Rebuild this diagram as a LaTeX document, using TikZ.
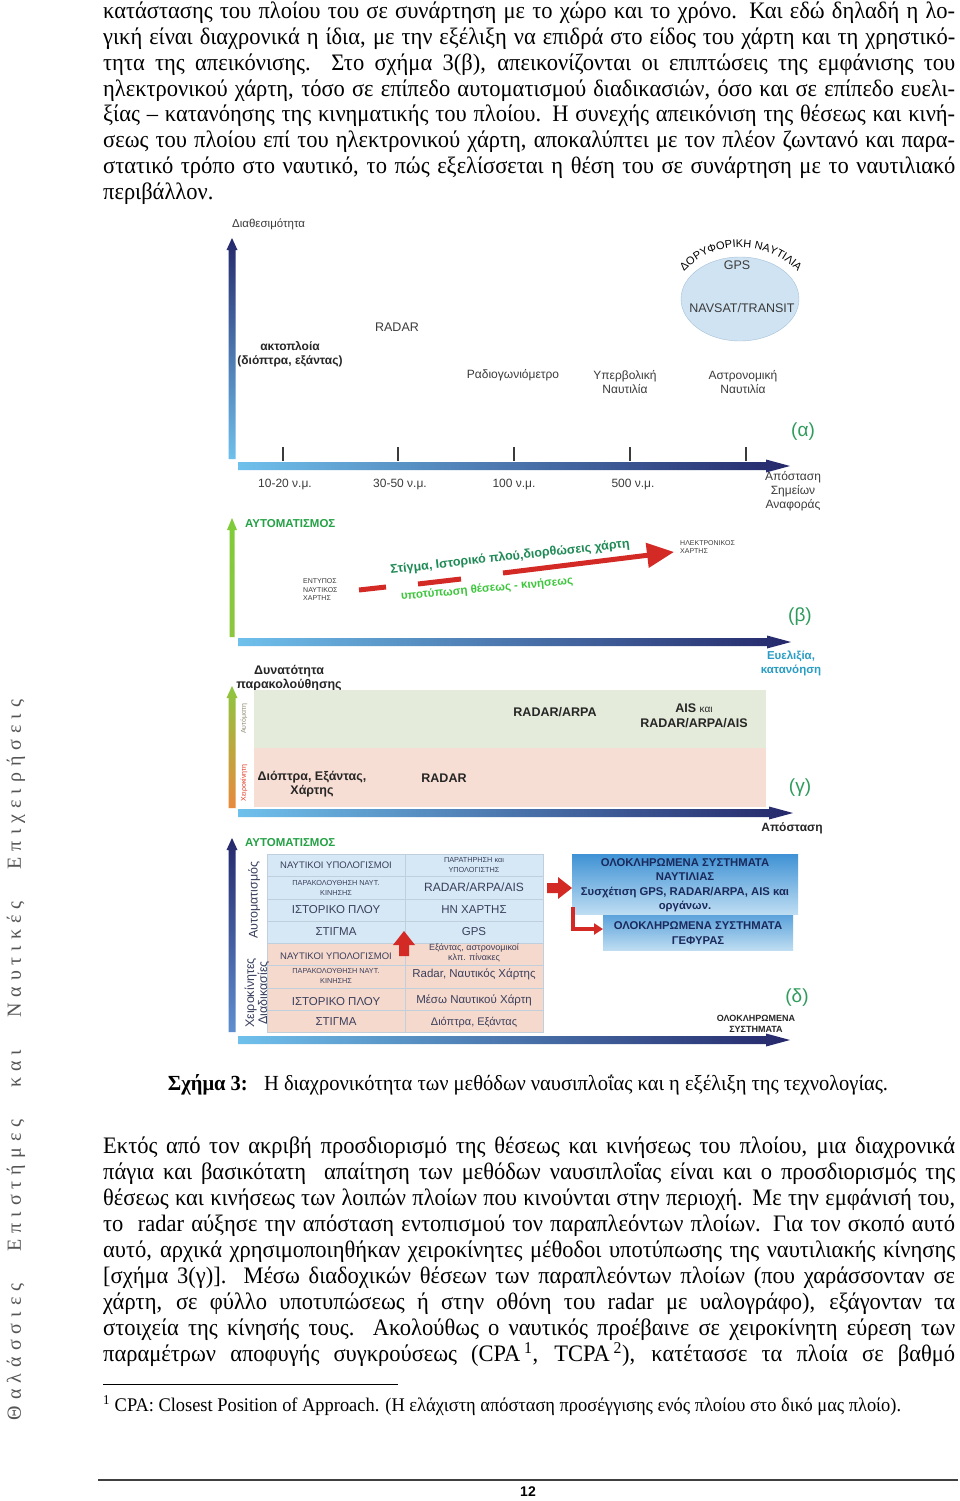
\documentclass[tikz,border=0pt]{standalone}
\usepackage{fontspec}
\usepackage{graphicx}
\setmainfont{Liberation Serif}
\setsansfont{Liberation Sans}
\usetikzlibrary{arrows.meta,decorations.text,shapes.geometric}
\definecolor{nv}{HTML}{25286B}
\definecolor{lb}{HTML}{6FC0EC}
\definecolor{labg}{HTML}{2F9B5C}
\definecolor{agrn}{HTML}{25A246}
\definecolor{rd}{HTML}{D42A25}
\definecolor{txtc}{HTML}{3B3B3B}
\definecolor{evc}{HTML}{2B9DC4}
\definecolor{dgr}{HTML}{1E8A55}
\definecolor{bgr}{HTML}{3CC63C}
\definecolor{sage}{HTML}{E4EBDA}
\definecolor{pinkb}{HTML}{F7DED4}
\definecolor{tblue}{HTML}{D6E8F5}
\definecolor{tpink}{HTML}{F6D9CD}
\definecolor{gridc}{HTML}{BFCFDB}
\definecolor{tblc}{HTML}{3A3F5C}
\definecolor{bxa}{HTML}{3F92D5}
\definecolor{bxb}{HTML}{BEDDF2}
\definecolor{bxt}{HTML}{1B2A5C}
\definecolor{ellf}{HTML}{CFE3F3}
\definecolor{elld}{HTML}{A6C1D8}
\definecolor{sidec}{HTML}{555555}
\definecolor{grA}{HTML}{8DC63F}
\definecolor{orA}{HTML}{E98A3C}
\definecolor{vbl}{HTML}{5F8FD0}
\newcommand{\jline}[3]{\node[anchor=base west,inner sep=0pt,body] (#1) at (103,#2) {\scalebox{1}[1.05]{\makebox[852pt][s]{#3}}};}
\newcommand{\harr}[3]{\shade[left color=lb,right color=nv] (#1,#3-4) -- (#2-24,#3-4) -- (#2-24,#3-6.5) -- (#2,#3) -- (#2-24,#3+6.5) -- (#2-24,#3+4) -- (#1,#3+4) -- cycle;}
\newcommand{\varr}[5]{\shade[top color=#4,bottom color=#5] (#1-3.5,#3) -- (#1-3.5,#2+12) -- (#1-5.5,#2+12) -- (#1,#2) -- (#1+5.5,#2+12) -- (#1+3.5,#2+12) -- (#1+3.5,#3) -- cycle;}
\tikzset{
  body/.style={font=\fontsize{22.5}{26}\selectfont},
  lbl/.style 2 args={font=\sffamily\fontsize{#1}{#2}\selectfont,text=txtc,inner sep=0pt,align=center},
  blbl/.style 2 args={font=\sffamily\bfseries\fontsize{#1}{#2}\selectfont,text=black!85,inner sep=0pt,align=center},
  tc/.style 2 args={font=\sffamily\fontsize{#1}{#2}\selectfont,text=tblc,inner sep=0pt,align=center},
  panel/.style={font=\sffamily\fontsize{19}{19}\selectfont,text=labg,inner sep=0pt},
  bxtxt/.style={font=\sffamily\bfseries\fontsize{11.3}{14.5}\selectfont,text=bxt,inner sep=0pt,align=center}
}
\begin{document}
\begin{tikzpicture}[x=1pt,y=-1pt]
\useasboundingbox (0,0) rectangle (960,1501);
\fill[white] (0,0) rectangle (960,1501);
% ---------- top paragraph ----------
\jline{t1}{19}{κατάστασης του πλοίου του σε συνάρτηση με το χώρο και το χρόνο. Και εδώ δηλαδή η λο-}
\jline{t2}{44.7}{γική είναι διαχρονικά η ίδια, με την εξέλιξη να επιδρά στο είδος του χάρτη και τη χρηστικό-}
\jline{t3}{70.4}{τητα της απεικόνισης.\ \ Στο σχήμα 3(β), απεικονίζονται οι επιπτώσεις της εμφάνισης του}
\jline{t4}{96.1}{ηλεκτρονικού χάρτη, τόσο σε επίπεδο αυτοματισμού διαδικασιών, όσο και σε επίπεδο ευελι-}
\jline{t5}{121.8}{ξίας – κατανόησης της κινηματικής του πλοίου. Η συνεχής απεικόνιση της θέσεως και κινή-}
\jline{t6}{147.5}{σεως του πλοίου επί του ηλεκτρονικού χάρτη, αποκαλύπτει με τον πλέον ζωντανό και παρα-}
\jline{t7}{173.2}{στατικό τρόπο στο ναυτικό, το πώς εξελίσσεται η θέση του σε συνάρτηση με το ναυτιλιακό}
\node[anchor=base west,inner sep=0pt,body] (t8) at (103,199) {\scalebox{1}[1.05]{περιβάλλον.}};
% ---------- side text ----------
\node[rotate=90,inner sep=0pt,text=sidec] (side) at (16,1060) {\fontsize{20}{20}\selectfont\addfontfeature{LetterSpace=30}\makebox[720pt][s]{Θαλάσσιες Επιστήμες και Ναυτικές Επιχειρήσεις}};
% ---------- panel alpha ----------
\node[lbl={11.5}{13},anchor=west] (dia) at (232,224) {Διαθεσιμότητα};
\varr{232}{238}{459}{nv}{lb}
\harr{238}{790}{466}
\foreach \tx in {283,398,514,630,746} \draw[line width=1.3pt,txtc] (\tx,447) -- (\tx,461);
\node[lbl={12}{14}] (k1) at (285,484) {10-20 ν.μ.};
\node[lbl={12}{14}] (k2) at (400,484) {30-50 ν.μ.};
\node[lbl={12}{14}] (k3) at (514,484) {100 ν.μ.};
\node[lbl={12}{14}] (k4) at (633,484) {500 ν.μ.};
\node[lbl={12}{14}] (aps) at (793,491) {Απόσταση\\Σημείων\\Αναφοράς};
\node[panel] (pa) at (803,432) {(α)};
\node[blbl={12}{14.5}] (akt) at (290,354) {ακτοπλοία\\(διόπτρα, εξάντας)};
\node[lbl={12.5}{14}] (rad) at (397,327) {RADAR};
\node[lbl={12}{14}] (rdg) at (513,375) {Ραδιογωνιόμετρο};
\node[lbl={12}{14}] (yp) at (625,382) {Υπερβολική\\Ναυτιλία};
\node[lbl={12}{14}] (ast) at (743,382) {Αστρονομική\\Ναυτιλία};
\node[ellipse,draw=elld,fill=ellf,minimum width=118pt,minimum height=84pt,inner sep=0pt] (ell) at (740,299) {};
\node[lbl={12.5}{14}] (gps) at (737,265) {GPS};
\node[lbl={12.5}{14}] (nav) at (742,308) {NAVSAT/TRANSIT};
\path[decorate,decoration={text along path,text align=center,text={|\sffamily\fontsize{11}{11}\selectfont|ΔΟΡΥΦΟΡΙΚΗ ΝΑΥΤΙΛΙΑ}}] (681,275) .. controls (711,238) and (769,238) .. (801,275);
% ---------- panel beta ----------
\shade[top color=grA!90!green,bottom color=grA] (229.5,637) -- (229.5,530) -- (227,530) -- (232,518) -- (237,530) -- (234.5,530) -- (234.5,637) -- cycle;
\node[font=\sffamily\bfseries\fontsize{11.5}{13}\selectfont,text=agrn,anchor=west,inner sep=0pt] (aut1) at (245,524) {ΑΥΤΟΜΑΤΙΣΜΟΣ};
\harr{238}{791}{642}
\node[lbl={7}{8.5},anchor=west,align=left] (ent) at (303,590) {ΕΝΤΥΠΟΣ\\ΝΑΥΤΙΚΟΣ\\ΧΑΡΤΗΣ};
\node[lbl={7}{8.5},anchor=west,align=left] (hlk) at (680,547) {ΗΛΕΚΤΡΟΝΙΚΟΣ\\ΧΑΡΤΗΣ};
\coordinate (d1a) at (359,590); \coordinate (d1b) at (386,587);
\coordinate (d2a) at (418,584); \coordinate (d2b) at (461,579);
\coordinate (d3a) at (503,573); \coordinate (d3b) at (674,552);
\draw[rd,line width=5pt] (d1a) -- (d1b);
\draw[rd,line width=5pt] (d2a) -- (d2b);
\draw[rd,line width=5pt,-{Triangle[length=27pt,width=24pt]}] (d3a) -- (d3b);
\node[font=\sffamily\bfseries\fontsize{12.5}{14}\selectfont,text=dgr,rotate=6.3,inner sep=0pt] (stg) at (510,557) {Στίγμα, Ιστορικό πλού,διορθώσεις χάρτη};
\node[font=\sffamily\bfseries\fontsize{11.5}{14}\selectfont,text=bgr,rotate=5.2,inner sep=0pt] (ypt) at (487,589) {υποτύπωση θέσεως - κινήσεως};
\node[panel] (pb) at (800,617) {(β)};
\node[font=\sffamily\bfseries\fontsize{11.5}{14}\selectfont,text=evc,align=center,inner sep=0pt] (evl) at (791,663) {Ευελιξία,\\κατανόηση};
% ---------- panel gamma ----------
\node[blbl={12.5}{14}] (dyn) at (289,678) {Δυνατότητα\\παρακολούθησης};
\fill[sage] (254,690) rectangle (766,748);
\fill[pinkb] (254,748) rectangle (766,807);
\varr{232}{686}{808}{grA}{orA}
\node[font=\sffamily\fontsize{7}{7}\selectfont,text=gray!80!olive,rotate=90,inner sep=0pt] (auto) at (244,719) {Αυτόματη};
\node[font=\sffamily\fontsize{7}{7}\selectfont,text=red!55!brown,rotate=90,inner sep=0pt] (xeir) at (244,783) {Χειροκίνητη};
\harr{238}{793}{813}
\node[blbl={12.5}{14}] (rarpa) at (555,712) {RADAR/ARPA};
\node[blbl={12.5}{14.5}] (ais) at (694,716) {AIS {\mdseries\fontsize{10}{12}\selectfont και}\\RADAR/ARPA/AIS};
\node[blbl={12.5}{14.5}] (diop) at (312,784) {Διόπτρα, Εξάντας,\\Χάρτης};
\node[blbl={12.5}{14}] (rad2) at (444,778) {RADAR};
\node[panel] (pg3) at (800,788) {(γ)};
\node[blbl={12}{14}] (apo) at (792,828) {Απόσταση};
% ---------- panel delta ----------
\varr{232}{838}{1032}{nv}{vbl}
\node[font=\sffamily\bfseries\fontsize{11.5}{13}\selectfont,text=agrn,anchor=west,inner sep=0pt] (aut2) at (245,843) {ΑΥΤΟΜΑΤΙΣΜΟΣ};
\fill[tblue] (267,854) rectangle (543,943.5);
\fill[tpink] (267,943.5) rectangle (543,1032);
\draw[gridc,line width=0.8pt] (267,854) rectangle (543,1032);
\foreach \yy in {876.5,899,921.5,943.5,965.5,988,1010} \draw[gridc,line width=0.8pt] (267,\yy) -- (543,\yy);
\draw[gridc,line width=0.8pt] (405,854) -- (405,1032);
\node[tc={9.5}{11}] (a1) at (336,865) {ΝΑΥΤΙΚΟΙ ΥΠΟΛΟΓΙΣΜΟΙ};
\node[tc={7.3}{9.5}] (a2) at (336,888) {ΠΑΡΑΚΟΛΟΥΘΗΣΗ ΝΑΥΤ.\\ΚΙΝΗΣΗΣ};
\node[tc={11.5}{13}] (a3) at (336,910) {ΙΣΤΟΡΙΚΟ ΠΛΟΥ};
\node[tc={11.5}{13}] (a4) at (336,932) {ΣΤΙΓΜΑ};
\node[tc={9.5}{11}] (a5) at (336,956) {ΝΑΥΤΙΚΟΙ ΥΠΟΛΟΓΙΣΜΟΙ};
\node[tc={7.3}{9.5}] (a6) at (336,976) {ΠΑΡΑΚΟΛΟΥΘΗΣΗ ΝΑΥΤ.\\ΚΙΝΗΣΗΣ};
\node[tc={11.5}{13}] (a7) at (336,1002) {ΙΣΤΟΡΙΚΟ ΠΛΟΥ};
\node[tc={11.5}{13}] (a8) at (336,1022) {ΣΤΙΓΜΑ};
\node[tc={7.3}{9.5}] (b1) at (474,865) {ΠΑΡΑΤΗΡΗΣΗ και\\ΥΠΟΛΟΓΙΣΤΗΣ};
\node[tc={12}{13}] (b2) at (474,887) {RADAR/ARPA/AIS};
\node[tc={11.5}{13}] (b3) at (474,910) {ΗΝ ΧΑΡΤΗΣ};
\node[tc={11.5}{13}] (b4) at (474,932) {GPS};
\node[tc={9}{10.5}] (b5) at (474,953) {Εξάντας, αστρονομικοί\\κλπ. πίνακες};
\node[tc={11.5}{13}] (b6) at (474,974) {Radar, Ναυτικός Χάρτης};
\node[tc={11.5}{13}] (b7) at (474,1000) {Μέσω Ναυτικού Χάρτη};
\node[tc={11}{13}] (b8) at (474,1022) {Διόπτρα, Εξάντας};
\node[font=\sffamily\fontsize{12.5}{14}\selectfont,text=tblc,rotate=90,inner sep=0pt] (vaut) at (254,900) {Αυτοματισμός};
\node[font=\sffamily\fontsize{12.5}{12}\selectfont,text=tblc,rotate=90,inner sep=0pt,align=center] (vxei) at (257,993) {Χειροκίνητες\\Διαδικασίες};
\fill[rd] (399,956) -- (399,945) -- (393,945) -- (404,931) -- (415,945) -- (409,945) -- (409,956) -- cycle;
\shade[top color=bxa,bottom color=bxb] (572,854) rectangle (798,914);
\node[bxtxt] (box1) at (685,885) {ΟΛΟΚΛΗΡΩΜΕΝΑ ΣΥΣΤΗΜΑΤΑ\\ΝΑΥΤΙΛΙΑΣ\\Συσχέτιση GPS, RADAR/ARPA, AIS και\\οργάνων.};
\fill[rd] (547,883) -- (558,883) -- (558,877) -- (572,888) -- (558,899) -- (558,893) -- (547,893) -- cycle;
\shade[top color=bxa!85,bottom color=bxb] (603,915) rectangle (793,950);
\node[bxtxt] (box2) at (698,933) {ΟΛΟΚΛΗΡΩΜΕΝΑ ΣΥΣΤΗΜΑΤΑ\\ΓΕΦΥΡΑΣ};
\coordinate (la) at (573,907);
\coordinate (lc) at (603,929);
\draw[rd,line width=4pt,-{Triangle[length=9pt,width=11pt]}] (la) |- (lc);
\harr{238}{790}{1040}
\node[panel] (pd) at (797,998) {(δ)};
\node[font=\sffamily\bfseries\fontsize{9}{11.5}\selectfont,text=black!85,align=center,inner sep=0pt] (olo) at (756,1024) {ΟΛΟΚΛΗΡΩΜΕΝΑ\\ΣΥΣΤΗΜΑΤΑ};
% ---------- caption ----------
\node[anchor=base,inner sep=0pt] (cap) at (528,1090) {\fontsize{20.5}{22}\selectfont\scalebox{1}[1.05]{\textbf{Σχήμα 3:}\hspace{0.8em}Η διαχρονικότητα των μεθόδων ναυσιπλοΐας και η εξέλιξη της τεχνολογίας.}};
% ---------- bottom paragraph ----------
\jline{u1}{1153}{Εκτός από τον ακριβή προσδιορισμό της θέσεως και κινήσεως του πλοίου, μια διαχρονικά}
\jline{u2}{1179}{πάγια και βασικότατη\ \ απαίτηση των μεθόδων ναυσιπλοΐας είναι και ο προσδιορισμός της}
\jline{u3}{1205}{θέσεως και κινήσεως των λοιπών πλοίων που κινούνται στην περιοχή. Με την εμφάνισή του,}
\jline{u4}{1231}{το\ \ radar αύξησε την απόσταση εντοπισμού τον παραπλεόντων πλοίων. Για τον σκοπό αυτό}
\jline{u5}{1257}{αυτό, αρχικά χρησιμοποιηθήκαν χειροκίνητες μέθοδοι υποτύπωσης της ναυτιλιακής κίνησης}
\jline{u6}{1283}{[σχήμα 3(γ)]. Μέσω διαδοχικών θέσεων των παραπλεόντων πλοίων (που χαράσσονταν σε}
\jline{u7}{1309}{χάρτη, σε φύλλο υποτυπώσεως ή στην οθόνη του radar με υαλογράφο), εξάγονταν τα}
\jline{u8}{1335}{στοιχεία της κίνησής τους. Ακολούθως ο ναυτικός προέβαινε σε χειροκίνητη εύρεση των}
\jline{u9}{1361}{παραμέτρων αποφυγής συγκρούσεως (CPA\,\textsuperscript{1}, TCPA\,\textsuperscript{2}), κατέτασσε τα πλοία σε βαθμό}
% ---------- footnote ----------
\coordinate (fr1) at (103,1384); \coordinate (fr2) at (398,1384);
\draw[line width=0.9pt] (fr1) -- (fr2);
\node[anchor=base west,inner sep=0pt] (fn) at (103,1411) {\fontsize{18.4}{20}\selectfont\scalebox{1}[1.05]{\textsuperscript{1} CPA: Closest Position of Approach. (Η ελάχιστη απόσταση προσέγγισης ενός πλοίου στο δικό μας πλοίο).}};
\coordinate (pr1) at (98,1480); \coordinate (pr2) at (958,1480);
\draw[line width=1.6pt,black!75] (pr1) -- (pr2);
\node[font=\sffamily\bfseries\fontsize{14}{14}\selectfont,inner sep=0pt] (pgno) at (528,1492) {12};
\end{tikzpicture}
\end{document}
